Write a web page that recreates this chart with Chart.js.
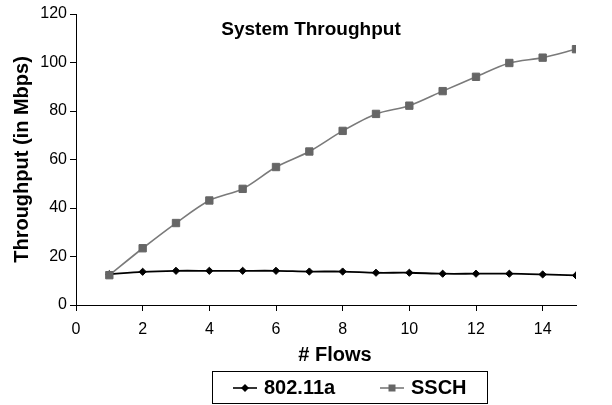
<!DOCTYPE html>
<html>
<head>
<meta charset="utf-8">
<script src="https://cdn.jsdelivr.net/npm/chart.js@4"></script>
<style>
  html, body { margin: 0; padding: 0; background: #fff; }
  #wrap { position: relative; width: 612px; height: 405px; }
  #legend {
    position: absolute; left: 212px; top: 371px; width: 274px; height: 31px;
    border: 1px solid #000; box-sizing: content-box;
    font: bold 20px Arial, "Liberation Sans", sans-serif; color: #000;
  }
  #legend .item { position: absolute; top: 0; height: 31px; display: flex; align-items: center; }
  #legend canvas { margin-right: 7px; }
</style>
</head>
<body>
<div id="wrap">
  <canvas id="myChart" width="612" height="405"></canvas>
  <div id="legend"></div>
</div>
<script>
const flows = [1, 2, 3, 4, 5, 6, 7, 8, 9, 10, 11, 12, 13, 14, 15];
const ieee80211a = [12.7, 13.7, 14.1, 14.1, 14.1, 14.1, 13.8, 13.8, 13.3, 13.3, 12.9, 12.9, 12.9, 12.6, 12.2];
const ssch = [12.3, 23.4, 33.8, 43.1, 47.9, 56.9, 63.3, 71.8, 78.8, 82.2, 88.2, 94.1, 99.8, 102.0, 105.5];
const xTicks = [0, 2, 4, 6, 8, 10, 12, 14];
const title = 'System Throughput';
const xTitle = '# Flows';

const FONT = 'Arial, "Liberation Sans", sans-serif';

// chart title sits inside the plot, x title is a bit right of centre (as in the original)
const extraText = {
  id: 'extraText',
  afterDraw(chart) {
    const ctx = chart.ctx;
    ctx.save();
    ctx.fillStyle = '#000';
    ctx.textAlign = 'center';
    ctx.textBaseline = 'middle';
    ctx.font = 'bold 19px ' + FONT;
    ctx.fillText(title, 311, 30);
    ctx.font = 'bold 20px ' + FONT;
    ctx.fillText(xTitle, 335, 355);
    ctx.restore();
  }
};

const ctx = document.getElementById('myChart').getContext('2d');
const chart = new Chart(ctx, {
  type: 'line',
  data: {
    datasets: [
      {
        label: '802.11a',
        data: flows.map((f, i) => ({ x: f, y: ieee80211a[i] })),
        borderColor: '#000000',
        backgroundColor: '#000000',
        borderWidth: 1.8,
        pointStyle: 'rectRot',
        pointRadius: 3.6,
        pointBorderWidth: 1,
        tension: 0.3,
        order: 1
      },
      {
        label: 'SSCH',
        data: flows.map((f, i) => ({ x: f, y: ssch[i] })),
        borderColor: '#7a7a7a',
        backgroundColor: '#666666',
        pointBorderColor: '#666666',
        borderWidth: 1.6,
        pointStyle: 'rect',
        pointRadius: 5.2,
        pointBorderWidth: 1,
        tension: 0.3,
        order: 0
      }
    ]
  },
  options: {
    responsive: false,
    animation: false,
    layout: { padding: { left: 10, right: 36, top: 14, bottom: 36 } },
    plugins: {
      tooltip: { enabled: false },
      title: { display: false },
      legend: { display: false }
    },
    scales: {
      x: {
        type: 'linear',
        min: 0,
        max: 15,
        afterBuildTicks: (scale) => { scale.ticks = xTicks.map(v => ({ value: v })); },
        ticks: { color: '#000', font: { family: FONT, size: 16 }, padding: 9, maxRotation: 0 },
        grid: { display: true, drawOnChartArea: false, tickLength: 6, color: '#000' },
        border: { color: '#000', width: 1 },
        afterFit: (scale) => { scale.height = 64; }
      },
      y: {
        min: 0,
        max: 120,
        ticks: { stepSize: 20, color: '#000', font: { family: FONT, size: 16 }, padding: 3 },
        grid: { display: true, drawOnChartArea: false, tickLength: 6, color: '#000' },
        border: { color: '#000', width: 1 },
        title: { display: true, text: 'Throughput (in Mbps)', color: '#000', font: { family: FONT, size: 20, weight: 'bold' }, padding: { top: 0, bottom: 0 } },
        afterFit: (scale) => { scale.width = 66; }
      }
    }
  },
  plugins: [extraText]
});

// legend box built from the datasets, with Excel-style line+marker swatches
const legendEl = document.getElementById('legend');
const itemLeft = [20, 167];
chart.data.datasets.forEach((ds, i) => {
  const item = document.createElement('div');
  item.className = 'item';
  item.style.left = itemLeft[i] + 'px';
  const sw = document.createElement('canvas');
  sw.width = 24; sw.height = 12;
  const g = sw.getContext('2d');
  g.strokeStyle = ds.borderColor; g.fillStyle = ds.backgroundColor; g.lineWidth = 1.6;
  g.beginPath(); g.moveTo(0, 6); g.lineTo(24, 6); g.stroke();
  g.beginPath();
  if (ds.pointStyle === 'rectRot') {
    g.moveTo(12, 2); g.lineTo(16, 6); g.lineTo(12, 10); g.lineTo(8, 6);
  } else {
    g.rect(8.5, 2.5, 7, 7);
  }
  g.closePath(); g.fill();
  const txt = document.createElement('span');
  txt.textContent = ds.label;
  item.appendChild(sw);
  item.appendChild(txt);
  legendEl.appendChild(item);
});
</script>
</body>
</html>
